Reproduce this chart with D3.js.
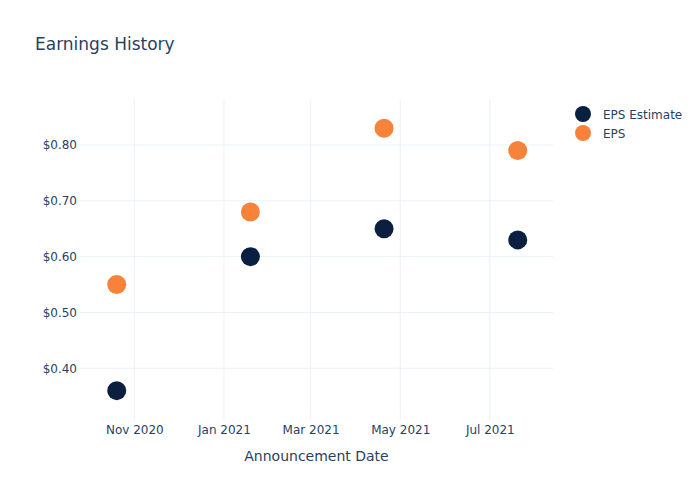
<!DOCTYPE html>
<html>
<head>
<meta charset="utf-8">
<script src="https://cdn.jsdelivr.net/npm/d3@7"></script>
<style>
  html, body { margin: 0; padding: 0; background: #fff; }
  svg { display: block; font-family: "DejaVu Sans", Verdana, sans-serif; }
</style>
</head>
<body>
<svg id="chart" width="700" height="500"></svg>
<script>
const dates = ["2020-10-20", "2021-01-19", "2021-04-20", "2021-07-20"];
const epsEstimate = [0.36, 0.60, 0.65, 0.63];
const eps = [0.55, 0.68, 0.83, 0.79];
const seriesNames = ["EPS Estimate", "EPS"];
const seriesColors = ["#0b1f41", "#f7823a"];
const yTicks = [0.40, 0.50, 0.60, 0.70, 0.80];
const xTickDates = ["2020-11-01", "2021-01-01", "2021-03-01", "2021-05-01", "2021-07-01"];
const title = "Earnings History";
const xTitle = "Announcement Date";

const W = 700, H = 500;
const m = { l: 80, r: 147, t: 100, b: 80 };
const pw = W - m.l - m.r, ph = H - m.t - m.b;
const parse = d3.utcParse("%Y-%m-%d");
const textColor = "#2a3f5f";
const gridColor = "#ebf0f8";

const svg = d3.select("#chart");
svg.append("rect").attr("width", W).attr("height", H).attr("fill", "#fff");

const x = d3.scaleUtc()
  .domain([parse("2020-09-25"), parse("2021-08-13")])
  .range([m.l, m.l + pw]);
const y = d3.scaleLinear()
  .domain([0.3074, 0.8806])
  .range([m.t + ph, m.t]);

// grid
const g = svg.append("g");
g.selectAll("line.xg").data(xTickDates.map(parse)).enter().append("line")
  .attr("x1", d => x(d)).attr("x2", d => x(d))
  .attr("y1", m.t).attr("y2", m.t + ph)
  .attr("stroke", gridColor).attr("stroke-width", 1);
g.selectAll("line.yg").data(yTicks).enter().append("line")
  .attr("x1", m.l).attr("x2", m.l + pw)
  .attr("y1", d => y(d)).attr("y2", d => y(d))
  .attr("stroke", gridColor).attr("stroke-width", 1);

// axes
const fmtX = d3.utcFormat("%b %Y");
const xAxis = d3.axisBottom(x).tickValues(xTickDates.map(parse)).tickFormat(fmtX).tickSize(0).tickPadding(5);
const xa = svg.append("g").attr("transform", `translate(0,${m.t + ph})`).call(xAxis);
xa.select(".domain").remove();
xa.selectAll("text").attr("fill", textColor).attr("font-size", 12).attr("font-family", "DejaVu Sans, sans-serif");

const yAxis = d3.axisLeft(y).tickValues(yTicks).tickFormat(d => "$" + d.toFixed(2)).tickSize(0).tickPadding(3);
const ya = svg.append("g").attr("transform", `translate(${m.l},0)`).call(yAxis);
ya.select(".domain").remove();
ya.selectAll("text").attr("fill", textColor).attr("font-size", 12).attr("font-family", "DejaVu Sans, sans-serif");

// points
const seriesData = [epsEstimate, eps];
seriesData.forEach((vals, si) => {
  svg.append("g").selectAll("circle").data(vals).enter().append("circle")
    .attr("cx", (d, i) => x(parse(dates[i])))
    .attr("cy", d => y(d))
    .attr("r", 9.5)
    .attr("fill", seriesColors[si]);
});

// title
svg.append("text").attr("x", 35).attr("y", 50)
  .attr("font-size", 17).attr("fill", textColor).text(title);

// x title
svg.append("text").attr("x", m.l + pw / 2).attr("y", 461)
  .attr("text-anchor", "middle").attr("font-size", 14).attr("fill", textColor).text(xTitle);

// legend
const lg = svg.append("g");
seriesNames.forEach((name, i) => {
  const cy = 114 + i * 19;
  lg.append("circle").attr("cx", 583).attr("cy", cy).attr("r", 8).attr("fill", seriesColors[i]);
  lg.append("text").attr("x", 603).attr("y", cy + 4.5).attr("font-size", 12).attr("fill", textColor).text(name);
});
</script>
</body>
</html>
